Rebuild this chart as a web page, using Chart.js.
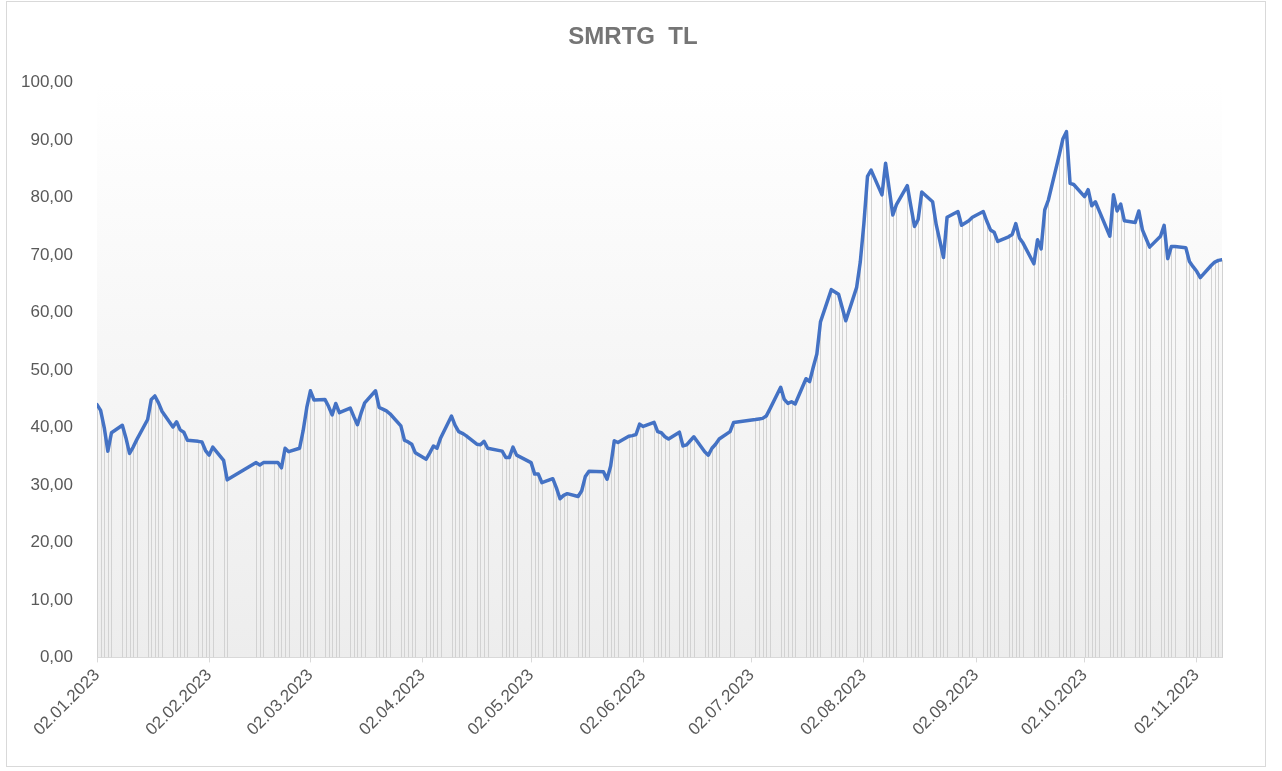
<!DOCTYPE html>
<html>
<head>
<meta charset="utf-8">
<title>SMRTG TL</title>
<script src="https://cdn.jsdelivr.net/npm/chart.js@4.4.0/dist/chart.umd.min.js"></script>
<style>
    html, body { margin: 0; padding: 0; background: #fff; overflow: hidden; }
    #wrap { position: relative; width: 1282px; height: 771px; }
    #frame { position: absolute; left: 6px; top: 1px; width: 1258px; height: 764px; border: 1px solid #d9d9d9; pointer-events: none; }
</style>
</head>
<body>
<div id="wrap">
    <canvas id="chart" width="1282" height="771"></canvas>
    <div id="frame"></div>
</div>
<script>
// Trading calendar (Borsa Istanbul, 2023)
const firstDay = '2023-01-02';
const lastDay = '2023-11-09';
const holidays = [
    '2023-02-08', '2023-02-09', '2023-02-10', '2023-02-13', '2023-02-14',
    '2023-04-21', '2023-05-01', '2023-05-19',
    '2023-06-28', '2023-06-29', '2023-06-30', '2023-08-30'
];

// Closing prices, one per trading day
const closesJan = [44.0, 43.0, 40.0, 35.9, 39.1, 40.4, 38.2, 35.5, 36.6, 37.9, 41.4, 44.9, 45.5, 44.3, 42.8, 40.1, 41.0, 39.6, 39.2, 37.8, 37.6, 37.5];
const closesFeb = [36.0, 35.2, 36.6, 34.3, 30.9, 33.9, 33.5, 33.9, 33.9, 33.9, 33.0, 36.4, 35.8, 36.4, 39.5];
const closesMar = [43.5, 46.4, 44.8, 44.9, 43.7, 42.2, 44.2, 42.6, 43.4, 41.9, 40.5, 42.5, 44.3, 46.4, 43.5, 43.2, 42.9, 42.4, 40.3, 37.8, 37.5, 37.1, 35.6];
const closesApr = [34.5, 35.6, 36.8, 36.4, 38.2, 42.0, 40.4, 39.3, 39.0, 38.6, 37.1, 37.0, 37.6, 36.4, 35.9, 34.8, 34.8, 36.6, 35.2];
const closesMay = [33.9, 31.9, 31.9, 30.4, 31.1, 29.5, 27.6, 28.2, 28.5, 28.0, 29.0, 31.5, 32.4, 32.3, 31.0, 33.3, 37.7, 37.4, 38.5, 38.6, 38.8];
const closesJun = [40.6, 40.2, 40.9, 39.3, 39.1, 38.4, 38.0, 39.2, 36.8, 37.0, 37.7, 38.4, 35.8, 35.2, 36.4, 37.1, 38.0, 39.3, 40.9];
const closesJul = [41.4, 41.5, 41.6, 42.0, 43.2, 47.0, 44.9, 44.2, 44.5, 44.1, 48.5, 48.0, 50.5, 52.8, 58.4, 64.0, 63.6, 63.2, 60.9, 58.6, 64.4];
const closesAug = [68.8, 75.5, 83.7, 84.8, 80.5, 86.0, 81.5, 77.0, 78.8, 82.1, 78.5, 75.0, 76.2, 81.0, 79.3, 75.3, 72.5, 69.6, 76.6, 77.6, 75.2, 76.0];
const closesSep = [76.6, 77.6, 75.9, 74.4, 74.0, 72.4, 73.2, 73.6, 75.5, 73.0, 72.1, 68.5, 72.7, 71.1, 77.9, 79.6, 87.4, 90.2, 91.5, 82.5, 82.3];
const closesOct = [80.2, 81.4, 78.6, 79.3, 77.8, 73.3, 80.5, 77.7, 78.9, 76.0, 75.7, 77.7, 74.4, 72.9, 71.4, 73.3, 75.2, 69.4, 71.5, 71.5, 71.3, 68.9];
const closesNov = [68.0, 67.2, 66.1, 68.2, 68.8, 69.1, 69.2];

// x axis labels (one per month)
const tickLabels = [
    '02.01.2023', '02.02.2023', '02.03.2023', '02.04.2023', '02.05.2023', '02.06.2023',
    '02.07.2023', '02.08.2023', '02.09.2023', '02.10.2023', '02.11.2023'
];
const yMin = 0;
const yMax = 100;
const yStep = 10;

const DAY = 86400000;
const toUTC = s => {
    const [y, m, d] = s.split('-').map(Number);
    return Date.UTC(y, m - 1, d);
};
const start = toUTC(firstDay);

// build list of trading days as day offsets from the first day
const tradingDays = [];
for (let t = start; t <= toUTC(lastDay); t += DAY) {
    const dow = new Date(t).getUTCDay();
    const iso = new Date(t).toISOString().slice(0, 10);
    if (dow === 0 || dow === 6 || holidays.includes(iso)) continue;
    tradingDays.push((t - start) / DAY);
}

const closes = [
    ...closesJan, ...closesFeb, ...closesMar, ...closesApr, ...closesMay, ...closesJun,
    ...closesJul, ...closesAug, ...closesSep, ...closesOct, ...closesNov
];
if (closes.length !== tradingDays.length) {
    console.warn('length mismatch', closes.length, tradingDays.length);
}

const points = tradingDays.map((d, i) => ({ x: d, y: closes[i] }));

const tickDays = tickLabels.map(lbl => {
    const [d, m, y] = lbl.split('.');
    return (toUTC(`${y}-${m}-${d}`) - start) / DAY;
});

// plot area gradient background
const plotBackground = {
    id: 'plotBackground',
    beforeDraw(chart) {
        const { ctx, chartArea } = chart;
        const g = ctx.createLinearGradient(0, chartArea.top, 0, chartArea.bottom);
        g.addColorStop(0, '#ffffff');
        g.addColorStop(1, '#ededed');
        ctx.save();
        ctx.fillStyle = g;
        ctx.fillRect(chartArea.left, chartArea.top, chartArea.right - chartArea.left, chartArea.bottom - chartArea.top);
        ctx.restore();
    }
};

// drop lines: from every point straight down to the x axis
const dropLines = {
    id: 'dropLines',
    beforeDatasetsDraw(chart) {
        const { ctx, scales: { x, y } } = chart;
        const base = y.getPixelForValue(0);
        ctx.save();
        ctx.strokeStyle = '#d2d2d2';
        ctx.lineWidth = 1;
        ctx.beginPath();
        points.forEach(p => {
            const px = Math.round(x.getPixelForValue(p.x)) + 0.5;
            ctx.moveTo(px, y.getPixelForValue(p.y));
            ctx.lineTo(px, base);
        });
        ctx.stroke();
        ctx.restore();
    }
};

const labelFont = { family: '"Liberation Sans", Arial, sans-serif', size: 17 };

new Chart(document.getElementById('chart').getContext('2d'), {
    type: 'line',
    data: {
        datasets: [{
            label: 'SMRTG',
            data: points,
            borderColor: '#4472C4',
            borderWidth: 3.5,
            pointRadius: 0,
            tension: 0,
            borderJoinStyle: 'round',
            borderCapStyle: 'round'
        }]
    },
    options: {
        responsive: false,
        animation: false,
        events: [],
        layout: { padding: { left: 0, right: 16, top: 0, bottom: 28 } },
        plugins: {
            legend: { display: false },
            tooltip: { enabled: false },
            title: {
                display: true,
                text: 'SMRTG  TL',
                color: '#757575',
                font: { family: '"Liberation Sans", Arial, sans-serif', size: 24, weight: 'bold' },
                padding: { top: 23, bottom: 31 }
            }
        },
        scales: {
            x: {
                type: 'linear',
                min: 0,
                max: tradingDays[tradingDays.length - 1],
                offset: false,
                grid: { display: true, drawOnChartArea: false, drawTicks: true, tickLength: 5, color: '#d9d9d9' },
                border: { display: true, color: '#d9d9d9', width: 1 },
                afterBuildTicks: scale => {
                    scale.ticks = tickDays.map(value => ({ value }));
                },
                ticks: {
                    autoSkip: false,
                    minRotation: 45,
                    maxRotation: 45,
                    padding: 3,
                    color: '#595959',
                    font: labelFont,
                    callback: (value, index) => tickLabels[index]
                }
            },
            y: {
                min: yMin,
                max: yMax,
                grid: { display: false, drawTicks: false },
                border: { display: false },
                afterFit: scale => { scale.width = 97; },
                ticks: {
                    stepSize: yStep,
                    padding: 24,
                    color: '#595959',
                    font: labelFont,
                    callback: v => v.toFixed(2).replace('.', ',')
                }
            },
            // empty right-hand margin so the plot ends where the reference's does
            yRight: {
                position: 'right',
                min: yMin,
                max: yMax,
                grid: { display: false, drawTicks: false },
                border: { display: false },
                ticks: { display: false },
                afterFit: scale => { scale.width = 44; }
            }
        }
    },
    plugins: [plotBackground, dropLines]
});
</script>
</body>
</html>
